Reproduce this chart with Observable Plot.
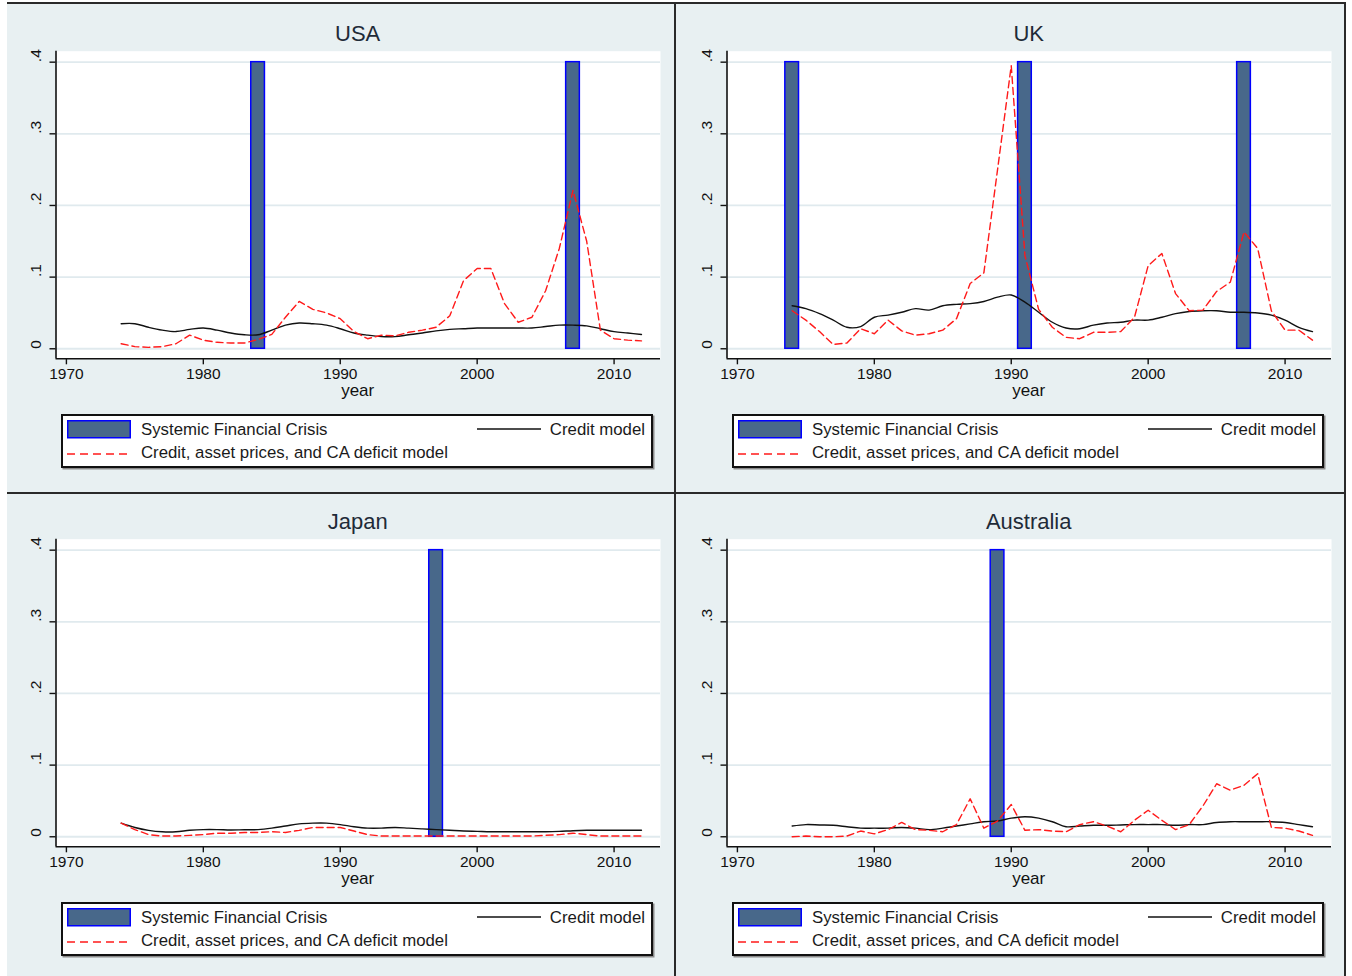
<!DOCTYPE html>
<html><head><meta charset="utf-8">
<script src="https://cdn.jsdelivr.net/npm/d3@7"></script>
<script src="https://cdn.jsdelivr.net/npm/@observablehq/plot@0.6"></script>
<style>
html,body{margin:0;padding:0;background:#fff;}
body{width:1352px;height:976px;overflow:hidden;position:relative;font-family:"Liberation Sans",Arial,sans-serif;}
#bg{position:absolute;left:7px;top:3px;width:1338px;height:980px;background:#e8f0f2;}
.ln{position:absolute;background:#2a2a2a;z-index:5;}
.panel{position:absolute;width:676px;height:488px;}
.panel svg.plot{position:absolute;left:0;top:0;}
.title{position:absolute;width:300px;text-align:center;font-size:22px;color:#1f2b38;line-height:24px;}
.xlab{position:absolute;width:100px;text-align:center;font-size:17px;color:#111;line-height:18px;}
.legend{position:absolute;background:#fff;border:2px solid #111;box-sizing:border-box;box-shadow:1.5px 1.5px 0 #8a8a8a;}
.legend .t{position:absolute;font-size:16.8px;color:#1a1a1a;line-height:18px;white-space:nowrap;}
.legend svg{position:absolute;overflow:visible;}
</style>
</head><body>
<div id="bg"></div>
<div class="ln" style="left:7px;top:2px;width:1339px;height:2px"></div>
<div class="ln" style="left:674px;top:3px;width:2px;height:976px"></div>
<div class="ln" style="left:7px;top:491.5px;width:1338px;height:2px"></div>
<div class="ln" style="left:1343.5px;top:3px;width:2px;height:976px"></div>
<script>
// ---------- data ----------
const years = [1974,1975,1976,1977,1978,1979,1980,1981,1982,1983,1984,1985,1986,1987,1988,1989,1990,1991,1992,1993,1994,1995,1996,1997,1998,1999,2000,2001,2002,2003,2004,2005,2006,2007,2008,2009,2010,2011,2012];

const countries = ["USA","UK","Japan","Australia"];

const usaCrises = [1984, 2007];
const ukCrises = [1974, 1991, 2007];
const japanCrises = [1997];
const australiaCrises = [1989];
const crisisHeight = 0.4;

const usaCredit = [0.035,0.035,0.030,0.026,0.024,0.027,0.029,0.026,0.022,0.0195,0.0195,0.026,0.033,0.036,0.035,0.033,0.028,0.022,0.019,0.017,0.017,0.0195,0.022,0.025,0.027,0.028,0.029,0.029,0.029,0.029,0.029,0.031,0.033,0.033,0.032,0.028,0.024,0.022,0.020];
const usaFull = [0.007,0.003,0.002,0.003,0.007,0.019,0.012,0.009,0.008,0.008,0.013,0.020,0.044,0.066,0.055,0.050,0.042,0.024,0.014,0.019,0.018,0.023,0.026,0.030,0.046,0.095,0.112,0.112,0.063,0.037,0.044,0.081,0.140,0.221,0.150,0.026,0.014,0.012,0.011];

const ukCredit = [0.060,0.056,0.049,0.040,0.030,0.031,0.044,0.047,0.051,0.056,0.054,0.060,0.062,0.063,0.066,0.072,0.075,0.065,0.051,0.037,0.029,0.028,0.033,0.036,0.037,0.040,0.040,0.044,0.049,0.052,0.053,0.053,0.051,0.051,0.050,0.047,0.040,0.030,0.024];
const ukFull = [0.053,0.040,0.024,0.006,0.008,0.028,0.021,0.040,0.025,0.019,0.021,0.026,0.042,0.091,0.106,0.250,0.395,0.130,0.055,0.030,0.016,0.014,0.023,0.023,0.024,0.044,0.116,0.133,0.077,0.053,0.054,0.080,0.093,0.163,0.140,0.053,0.026,0.026,0.012];

const japanCredit = [0.019,0.013,0.009,0.007,0.007,0.009,0.010,0.010,0.0094,0.0098,0.010,0.012,0.015,0.018,0.019,0.019,0.017,0.014,0.012,0.012,0.013,0.012,0.011,0.010,0.009,0.008,0.0075,0.007,0.007,0.007,0.007,0.007,0.0075,0.0085,0.009,0.009,0.009,0.009,0.009];
const japanFull = [0.019,0.010,0.003,0.001,0.001,0.002,0.003,0.005,0.005,0.006,0.006,0.007,0.006,0.009,0.013,0.013,0.013,0.008,0.003,0.001,0.001,0.001,0.001,0.001,0.001,0.001,0.001,0.001,0.001,0.001,0.001,0.002,0.003,0.005,0.003,0.001,0.001,0.001,0.001];

const australiaCredit = [0.015,0.017,0.0165,0.016,0.014,0.012,0.012,0.012,0.013,0.012,0.010,0.012,0.015,0.018,0.021,0.022,0.026,0.028,0.026,0.021,0.014,0.015,0.016,0.016,0.0165,0.017,0.017,0.017,0.016,0.017,0.017,0.020,0.021,0.021,0.021,0.021,0.020,0.017,0.014];
const australiaFull = [0.000,0.001,0.000,0.000,0.001,0.008,0.004,0.010,0.020,0.010,0.009,0.007,0.017,0.053,0.012,0.022,0.045,0.009,0.010,0.008,0.007,0.017,0.021,0.015,0.007,0.023,0.037,0.023,0.010,0.017,0.043,0.074,0.065,0.072,0.088,0.013,0.012,0.008,0.002];

const xTicks = [1970,1980,1990,2000,2010];
const yTicks = [0,0.1,0.2,0.3,0.4];
const yTickLabels = ["0",".1",".2",".3",".4"];
const xDomain = [1969.24, 2013.39];
const yDomain = [-0.014, 0.4153];

const legendLabels = ["Systemic Financial Crisis","Credit model","Credit, asset prices, and CA deficit model"];

// ---------- styles ----------
const crisisFill = "#48688a", crisisStroke = "#0000ff";
const creditColor = "#111111", fullColor = "#ff1a1a";
const gridColor = "#e0eaee";

const series = {
  USA: {crises: usaCrises, credit: usaCredit, full: usaFull},
  UK: {crises: ukCrises, credit: ukCredit, full: ukFull},
  Japan: {crises: japanCrises, credit: japanCredit, full: japanFull},
  Australia: {crises: australiaCrises, credit: australiaCredit, full: australiaFull}
};
const offsets = [[0,0],[671,0],[0,488],[671,488]];

countries.forEach((name, k) => {
  const [dx, dy] = offsets[k];
  const s = series[name];
  const credit = years.map((y,i) => ({year:y, v:s.credit[i]}));
  const full = years.map((y,i) => ({year:y, v:s.full[i]}));
  const crises = s.crises.map(y => ({year:y, h:crisisHeight}));

  const panel = document.createElement("div");
  panel.className = "panel";
  panel.style.left = dx + "px";
  panel.style.top = dy + "px";

  const chart = Plot.plot({
    width: 676, height: 410,
    marginLeft: 55.5, marginRight: 16, marginTop: 50.7, marginBottom: 51.7,
    style: {background:"transparent", color:"#111", fontFamily:"'Liberation Sans', Arial, sans-serif", overflow:"visible"},
    x: {domain: xDomain, axis: null},
    y: {domain: yDomain, axis: null},
    marks: [
      Plot.frame({fill:"white", stroke:"none"}),
      Plot.gridY(yTicks, {stroke: gridColor, strokeOpacity: 1, strokeWidth: 1.8}),
      Plot.rectY(crises, {x1: d => d.year - 0.5, x2: d => d.year + 0.5, y1: 0, y2: "h", fill: crisisFill, stroke: crisisStroke, strokeWidth: 1.5}),
      Plot.line(credit, {x:"year", y:"v", stroke: creditColor, strokeWidth: 1.4, curve: "catmull-rom"}),
      Plot.line(full, {x:"year", y:"v", stroke: fullColor, strokeWidth: 1.4, strokeDasharray: "7,4"}),
      Plot.ruleY([yDomain[0]], {stroke:"#111", strokeWidth:1.6}),
      Plot.ruleX([xDomain[0]], {stroke:"#111", strokeWidth:1.6}),
      Plot.axisX(xTicks, {tickSize: 6, tickPadding: 3, fontSize: 15.5, tickFormat: d => String(d), label: null, strokeWidth: 1.4}),
      Plot.axisY(yTicks, {tickSize: 6, tickFormat: () => "", label: null, strokeWidth: 1.4}),
      Plot.text(yTicks, {y: d => d, frameAnchor: "left", dx: -20, rotate: -90, text: (d,i) => yTickLabels[i], fontSize: 15.5, fill: "#111"})
    ]
  });
  chart.classList.add("plot");
  panel.appendChild(chart);

  const title = document.createElement("div");
  title.className = "title";
  title.textContent = name;
  title.style.left = (357.7 - 150) + "px";
  title.style.top = (34 - 12) + "px";
  panel.appendChild(title);

  const xl = document.createElement("div");
  xl.className = "xlab";
  xl.textContent = "year";
  xl.style.left = (357.7 - 50) + "px";
  xl.style.top = (391 - 9) + "px";
  panel.appendChild(xl);

  const lg = document.createElement("div");
  lg.className = "legend";
  lg.style.left = "61px"; lg.style.top = "414px";
  lg.style.width = "592px"; lg.style.height = "54px";
  lg.innerHTML = `
    <svg style="left:4px;top:4px" width="64" height="19"><rect x="0.75" y="0.75" width="62.5" height="17" fill="${crisisFill}" stroke="${crisisStroke}" stroke-width="1.5"/></svg>
    <div class="t" style="left:78px;top:4.5px">${legendLabels[0]}</div>
    <svg style="left:414px;top:12px" width="64" height="2"><line x1="0" y1="1" x2="64" y2="1" stroke="${creditColor}" stroke-width="1.6"/></svg>
    <div class="t" style="right:6px;top:4.5px">${legendLabels[1]}</div>
    <svg style="left:4px;top:37px" width="64" height="2"><line x1="0" y1="1" x2="64" y2="1" stroke="${fullColor}" stroke-width="1.6" stroke-dasharray="8,5"/></svg>
    <div class="t" style="left:78px;top:28px">${legendLabels[2]}</div>`;
  panel.appendChild(lg);

  document.body.appendChild(panel);
});
</script>
</body></html>
